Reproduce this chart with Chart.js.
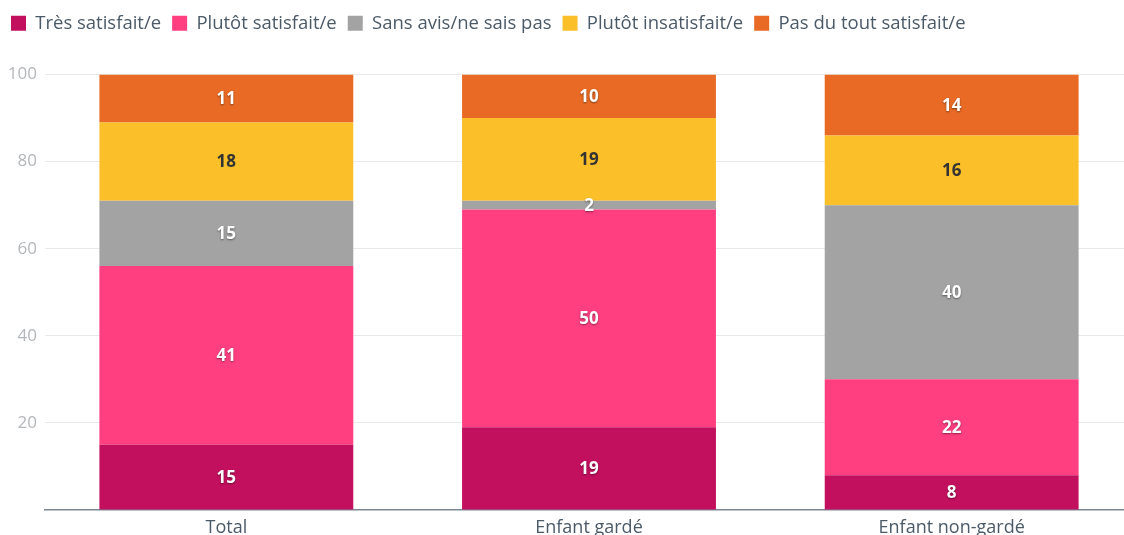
<!DOCTYPE html>
<html>
<head>
<meta charset="utf-8">
<script src="https://cdn.jsdelivr.net/npm/chart.js@4"></script>
<style>
  html, body { margin: 0; padding: 0; background: #fff; overflow: hidden; }
  #wrap { width: 1133px; height: 535px; }
</style>
</head>
<body>
<div id="wrap"><canvas id="graphique"></canvas></div>
<script>
// Données
const categories = ["Total", "Enfant gardé", "Enfant non-gardé"];
const tresSatisfait = [15, 19, 8];
const plutotSatisfait = [41, 50, 22];
const sansAvis = [15, 2, 40];
const plutotInsatisfait = [18, 19, 16];
const pasDuTout = [11, 10, 14];
const ticksY = [20, 40, 60, 80, 100];

const COULEURS = ["#c2105e", "#ff3f7f", "#a3a3a3", "#fbbf2a", "#e86a24"];

// Étiquettes au centre des segments
const etiquettes = {
  id: "etiquettes",
  afterDatasetsDraw(chart) {
    const ctx = chart.ctx;
    ctx.save();
    ctx.font = "bold 17px 'Open Sans', sans-serif";
    ctx.textAlign = "center";
    ctx.textBaseline = "middle";
    chart.data.datasets.forEach((ds, i) => {
      const meta = chart.getDatasetMeta(i);
      meta.data.forEach((bar, j) => {
        const y = (bar.y + bar.base) / 2;
        if (i === 3) {
          ctx.shadowColor = "transparent";
          ctx.fillStyle = "#333";
        } else {
          ctx.shadowColor = "rgba(0,0,0,0.45)";
          ctx.shadowBlur = 2;
          ctx.shadowOffsetX = 0;
          ctx.shadowOffsetY = 1;
          ctx.fillStyle = "#fff";
        }
        ctx.fillText(ds.data[j], bar.x, y + 1);
      });
    });
    ctx.restore();
  },
};

// Espace sous la légende
const espaceLegende = {
  id: "espaceLegende",
  beforeInit(chart) {
    const fit = chart.legend.fit;
    chart.legend.fit = function () {
      fit.bind(chart.legend)();
      this.height += 32;
    };
  },
};

new Chart(document.getElementById("graphique"), {
  type: "bar",
  data: {
    labels: categories,
    datasets: [
      { label: "Très satisfait/e", data: tresSatisfait },
      { label: "Plutôt satisfait/e", data: plutotSatisfait },
      { label: "Sans avis/ne sais pas", data: sansAvis },
      { label: "Plutôt insatisfait/e", data: plutotInsatisfait },
      { label: "Pas du tout satisfait/e", data: pasDuTout },
    ].map((ds, i) => ({
      ...ds,
      backgroundColor: COULEURS[i],
      borderWidth: 0,
      barPercentage: 0.7,
      categoryPercentage: 1,
    })),
  },
  plugins: [etiquettes, espaceLegende],
  options: {
    responsive: true,
    maintainAspectRatio: false,
    animation: false,
    layout: { padding: { top: 3, left: 0, right: 0, bottom: 0 } },
    plugins: {
      tooltip: { enabled: false },
      legend: {
        position: "top",
        align: "start",
        labels: {
          boxWidth: 15,
          boxHeight: 15,
          padding: 11,
          color: "#4b5a68",
          font: { family: "'Open Sans', sans-serif", size: 18.5 },
        },
      },
    },
    scales: {
      x: {
        stacked: true,
        afterFit(scale) { scale.height = 25; },
        grid: { display: false, drawTicks: false },
        border: { color: "#7b8794", width: 1.5 },
        ticks: {
          color: "#4b5a68",
          padding: 7,
          font: { family: "'Open Sans', sans-serif", size: 18 },
        },
      },
      y: {
        stacked: true,
        min: 0,
        max: 100,
        afterFit(scale) { scale.width = 45; },
        afterBuildTicks(scale) {
          scale.ticks = [0, ...ticksY].map((v) => ({ value: v }));
        },
        border: { display: false },
        grid: {
          color: (c) => (c.tick.value === 0 ? "transparent" : "#e9e9e9"),
          drawTicks: false,
        },
        ticks: {
          color: "#b3b6ba",
          padding: 8,
          font: { family: "'Open Sans', sans-serif", size: 17 },
          callback: (v) => (v === 0 ? "" : v),
        },
      },
    },
  },
});
</script>
</body>
</html>
